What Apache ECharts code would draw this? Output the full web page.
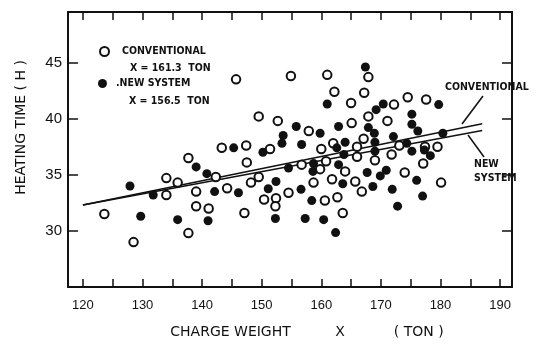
<!DOCTYPE html>
<html>
<head>
<meta charset="utf-8">
<script src="https://cdn.jsdelivr.net/npm/echarts@6/dist/echarts.min.js"></script>
<style>
  html, body { margin: 0; padding: 0; background: #fff; }
  #chart { width: 536px; height: 344px; }
</style>
</head>
<body>
<div id="chart"></div>
<script>
// values: [charge weight (t), heating time]
const conventional = [
  [145.7, 43.5], [154.9, 43.8], [161.0, 43.9], [167.9, 43.7], [162.2, 42.4], [167.2, 42.3], [165.0, 41.4],
  [149.5, 40.2], [152.7, 39.8], [167.9, 40.2], [157.9, 38.9], [165.1, 39.6], [162.0, 37.8], [167.1, 38.2],
  [166.0, 37.5], [160.0, 37.3], [143.3, 37.4], [147.4, 37.6], [151.4, 37.3], [147.5, 36.1], [156.7, 35.9],
  [159.8, 35.5], [160.8, 36.2], [166.0, 36.6], [164.0, 35.3], [149.5, 34.8], [148.2, 34.3], [158.7, 34.3],
  [161.8, 34.6], [165.7, 34.4], [166.8, 33.5], [144.2, 33.8], [154.5, 33.4], [150.4, 32.8], [152.4, 32.9],
  [152.3, 32.2], [160.6, 32.7], [162.7, 33.0], [147.1, 31.6], [163.6, 31.6], [137.7, 36.5], [142.3, 34.8],
  [134.0, 34.7], [135.9, 34.3], [139.0, 33.5], [134.0, 33.2], [123.6, 31.5], [139.0, 32.2], [141.1, 32.0],
  [137.7, 29.8], [128.5, 29.0], [172.2, 41.25], [174.5, 41.9], [177.6, 41.7], [171.1, 39.8], [173.1, 37.6],
  [177.4, 37.5], [179.5, 37.5], [169.0, 36.3], [171.8, 36.8], [177.1, 36.0], [174.0, 35.2], [180.1, 34.3]
];
const newSystem = [
  [167.4, 44.6], [161.0, 41.3], [155.8, 39.3], [159.8, 38.7], [162.9, 39.3], [167.9, 39.2], [153.6, 38.5],
  [153.4, 37.8], [156.7, 37.7], [164.0, 37.9], [162.6, 37.4], [145.3, 37.4], [150.2, 37.0], [154.5, 35.6],
  [158.7, 36.0], [158.6, 35.3], [163.8, 36.8], [162.9, 35.9], [167.7, 35.2], [152.4, 34.4], [163.6, 34.2],
  [146.1, 33.4], [151.1, 33.75], [156.6, 33.7], [158.4, 32.7], [152.3, 31.1], [157.3, 31.1], [160.4, 31.0],
  [162.4, 29.85], [139.0, 35.7], [140.8, 35.1], [127.9, 34.0], [142.1, 33.5], [131.8, 33.2], [129.7, 31.3],
  [135.9, 31.0], [141.0, 30.9], [170.4, 41.3], [169.2, 40.8], [179.7, 41.25], [175.2, 40.4], [175.2, 39.5],
  [176.2, 38.9], [168.9, 38.7], [180.4, 38.7], [172.1, 38.4], [169.0, 37.9], [174.35, 37.8], [169.0, 37.1],
  [175.2, 37.1], [177.3, 37.2], [178.3, 36.7], [169.9, 34.9], [170.9, 35.4], [176.0, 34.5], [168.65, 33.95],
  [171.9, 33.7], [177.0, 33.1], [172.8, 32.2]
];
// regression lines, end points
const conventionalFit = [[120, 32.3], [187, 39.55]];
const newSystemFit = [[120, 32.3], [187, 38.95]];

const xLabelValues = [120, 130, 140, 150, 160, 170, 180, 190];
const xTickValues = [120, 125, 130, 135, 140, 145, 150, 155, 160, 165, 170, 175, 180, 185, 190];
const yTickValues = [30, 35, 40, 45];

const ink = '#111';
const font = "'DejaVu Sans Condensed', 'Liberation Sans Narrow', sans-serif";
const numFont = "'Liberation Sans', Arial, sans-serif";

const chart = echarts.init(document.getElementById('chart'));

function xAxisCfg(pos, showLabel) {
  return {
    type: 'value', position: pos, min: 117.5, max: 192,
    axisLine: { show: true, lineStyle: { color: ink, width: 2 } },
    axisTick: { show: true, inside: true, length: 8, customValues: xTickValues, lineStyle: { color: ink, width: 1.5 } },
    axisLabel: showLabel ? { customValues: xLabelValues, margin: 12, fontSize: 13, color: ink, fontFamily: numFont } : { show: false },
    splitLine: { show: false }
  };
}
function yAxisCfg(pos, showLabel) {
  return {
    type: 'value', position: pos, min: 25, max: 49.5,
    axisLine: { show: true, lineStyle: { color: ink, width: 2 } },
    axisTick: { show: true, inside: true, length: 10, customValues: yTickValues, lineStyle: { color: ink, width: 1.5 } },
    axisLabel: showLabel ? { customValues: yTickValues, margin: 6, fontSize: 15, color: ink, fontFamily: numFont } : { show: false },
    splitLine: { show: false }
  };
}

const xBottom = xAxisCfg('bottom', true);
xBottom.name = 'CHARGE WEIGHT          X           ( TON )';
xBottom.nameLocation = 'middle';
xBottom.nameGap = 38;
xBottom.nameTextStyle = { fontSize: 14, color: ink, fontFamily: "'DejaVu Sans', sans-serif", padding: [0, 0, 0, 34] };

const yLeft = yAxisCfg('left', true);
yLeft.name = 'HEATING TIME ( H )';
yLeft.nameLocation = 'middle';
yLeft.nameGap = 40;
yLeft.nameTextStyle = { fontSize: 14, color: ink, fontFamily: "'DejaVu Sans', sans-serif", padding: [0, 0, 0, 44] };

const textStyle = { fill: ink, font: "bold 10.5px " + font };

chart.setOption({
  animation: false,
  backgroundColor: '#fff',
  grid: { left: 68, right: 24, top: 12, bottom: 57 },
  xAxis: [xBottom, xAxisCfg('top', false)],
  yAxis: [yLeft, yAxisCfg('right', false)],
  legend: [
    {
      data: ['CONVENTIONAL'], orient: 'vertical', left: 99, top: 46, padding: 0,
      itemWidth: 9, itemHeight: 9,
      textStyle: { color: ink, fontSize: 10.5, fontWeight: 'bold', fontFamily: font, padding: [0, 0, 0, 8] }
    },
    {
      data: ['.NEW SYSTEM'], orient: 'vertical', left: 98, top: 78, padding: 0,
      itemWidth: 9, itemHeight: 9,
      textStyle: { color: ink, fontSize: 10.5, fontWeight: 'bold', fontFamily: font, padding: [0, 0, 0, 4] }
    }
  ],
  graphic: [
    { type: 'text', left: 130, top: 63, style: Object.assign({ text: 'X = 161.3  TON' }, textStyle) },
    { type: 'text', left: 129, top: 96, style: Object.assign({ text: 'X = 156.5  TON' }, textStyle) },
    { type: 'text', left: 445, top: 82, style: Object.assign({ text: 'CONVENTIONAL' }, textStyle) },
    { type: 'text', left: 474, top: 157, style: Object.assign({ text: 'NEW\nSYSTEM', lineHeight: 14 }, textStyle) },
    { type: 'line', shape: { x1: 483, y1: 96, x2: 462, y2: 124 }, style: { stroke: ink, lineWidth: 1.5 } },
    { type: 'line', shape: { x1: 468, y1: 135, x2: 484, y2: 157 }, style: { stroke: ink, lineWidth: 1.5 } }
  ],
  series: [
    {
      name: 'conventional fit', type: 'line', data: conventionalFit, symbol: 'none', z: 1,
      lineStyle: { color: ink, width: 1.6 }
    },
    {
      name: 'new system fit', type: 'line', data: newSystemFit, symbol: 'none', z: 1,
      lineStyle: { color: ink, width: 1.6 }
    },
    {
      name: 'CONVENTIONAL', type: 'scatter', data: conventional, symbol: 'circle', symbolSize: 8.5, z: 3,
      itemStyle: { color: '#fff', borderColor: ink, borderWidth: 2, opacity: 1 }
    },
    {
      name: '.NEW SYSTEM', type: 'scatter', data: newSystem, symbol: 'circle', symbolSize: 9, z: 3,
      itemStyle: { color: ink, opacity: 1 }
    }
  ]
});
</script>
</body>
</html>
